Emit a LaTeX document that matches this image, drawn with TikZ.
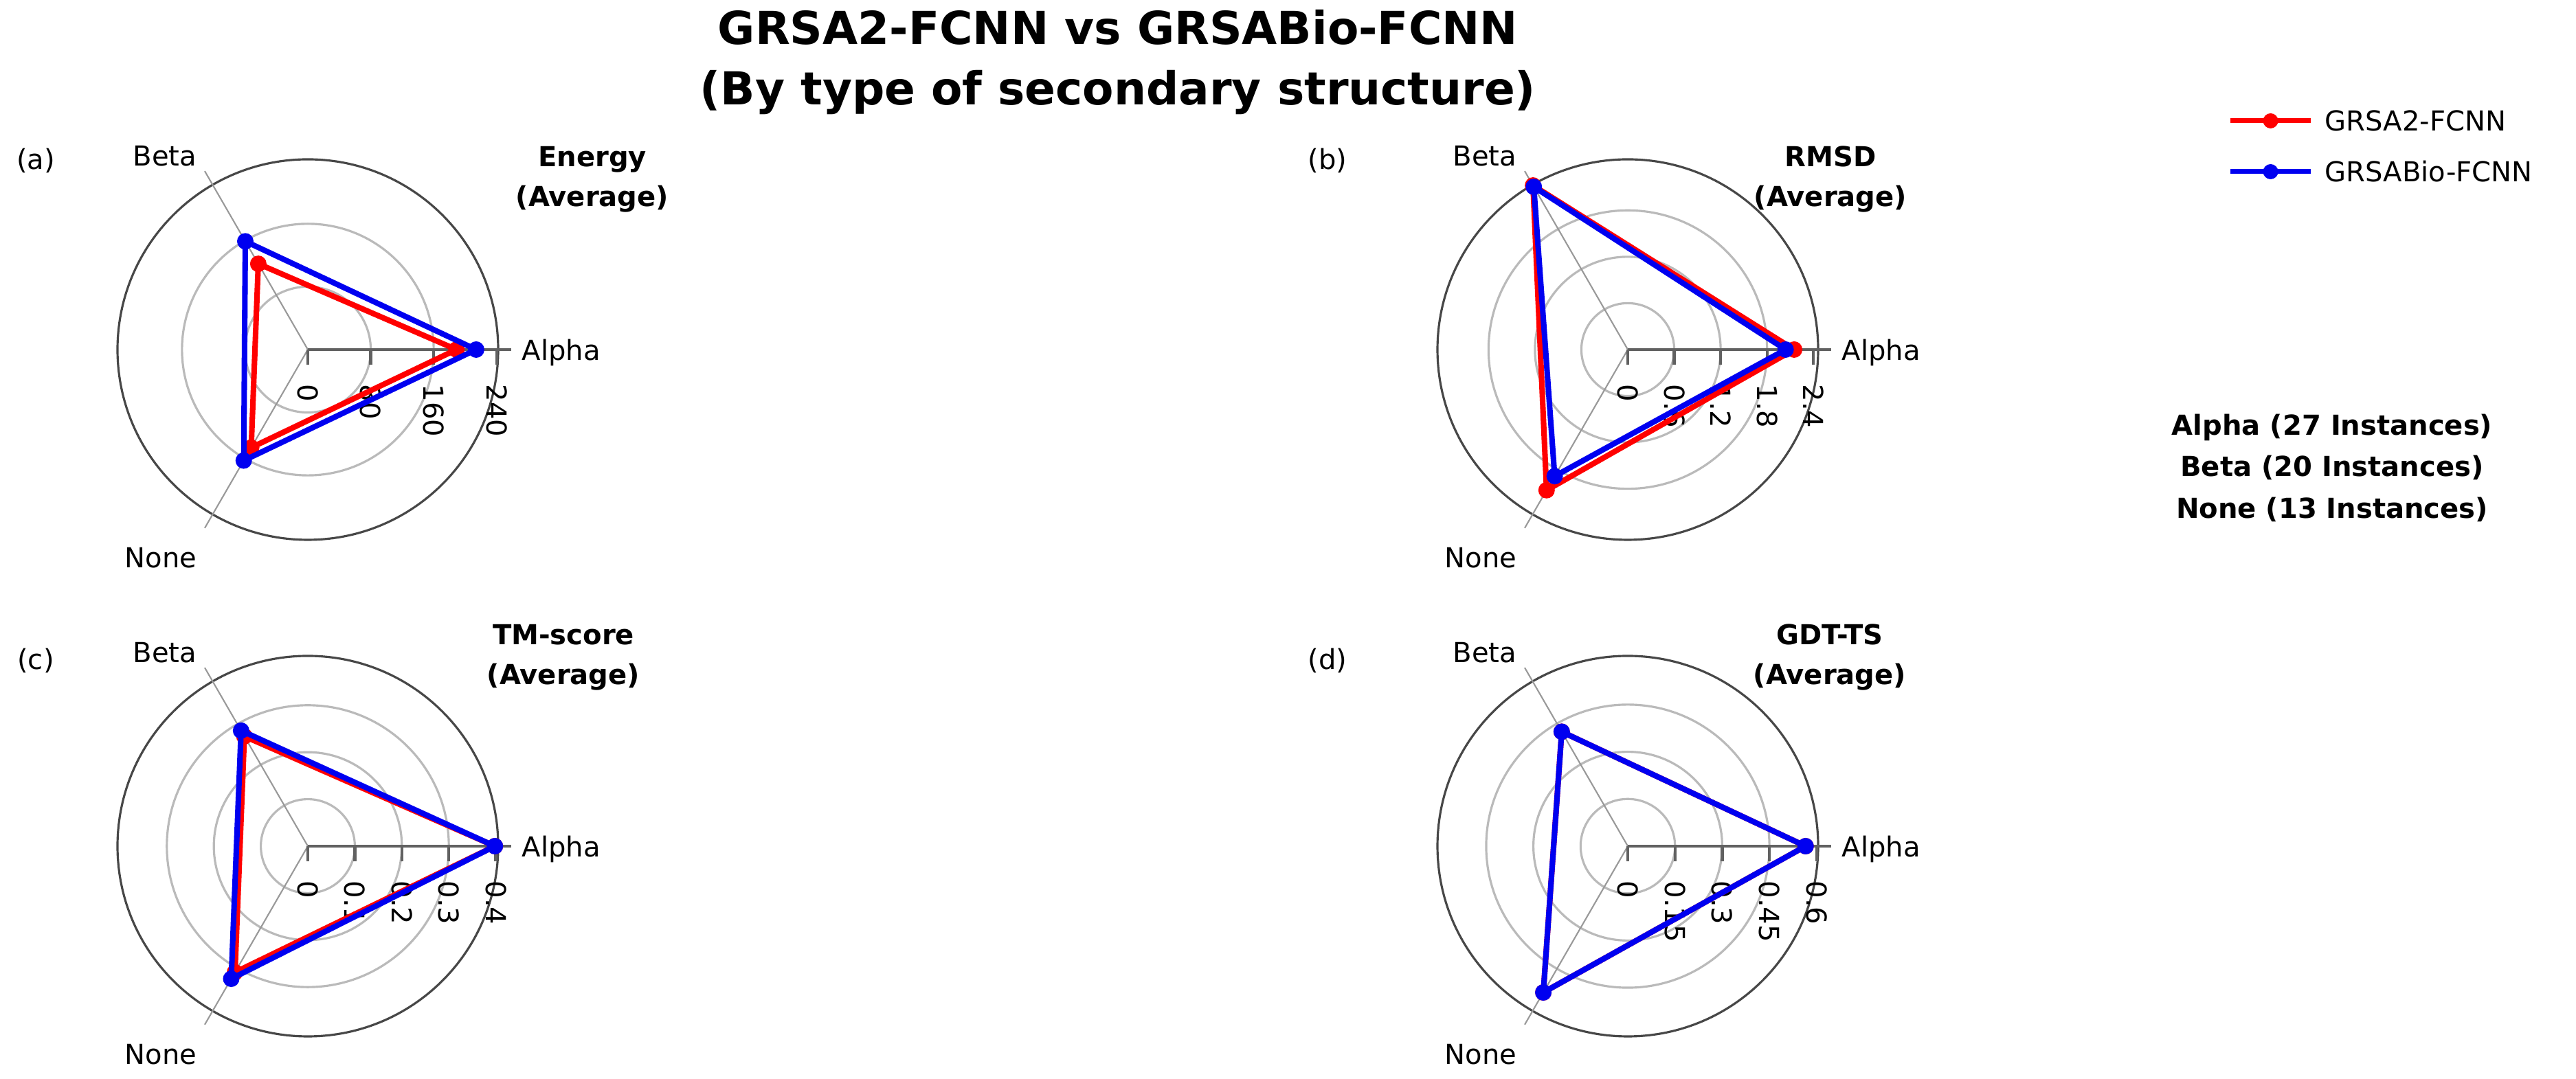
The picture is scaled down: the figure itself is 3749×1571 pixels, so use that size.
\documentclass[tikz,border=0pt]{standalone}
\usepackage{fontspec}
\setmainfont{DejaVu Sans}
\usetikzlibrary{calc}
\definecolor{sred}{RGB}{255,0,0}
\definecolor{sblue}{RGB}{0,0,240}
\tikzset{
  gridc/.style={draw=black!27, line width=0.9pt},
  outerc/.style={draw=black!72, line width=0.9pt},
  spoke/.style={draw=black!40, line width=0.6pt},
  axisl/.style={draw=black!62, line width=1.2pt},
  lab/.style={font=\fontsize{11.4}{13}\selectfont, inner sep=0pt},
  ptitle/.style={font=\fontsize{11.4}{16.5}\selectfont\bfseries, align=center, inner sep=0pt},
  redser/.style={draw=sred, line width=2.3pt, line join=round},
  blueser/.style={draw=sblue, line width=2.3pt, line join=round},
}
% #1 name, #2 cx, #3 cy, #4 px per unit, #5 ticks, #6 red A,B,N, #7 blue A,B,N
\newcommand\RadarPanel[7]{%
  \coordinate (#1-c) at (#2,#3);
  \foreach \t [count=\i] in {#5}{%
    \pgfmathsetmacro\tr{\t*#4}%
    \ifdim\tr pt>0.5pt \ifdim\tr pt<260pt \draw[gridc] (#1-c) circle[radius=\tr];\fi\fi
  }
  \draw[outerc] (#1-c) circle[radius=277];
  \draw[spoke] (#1-c) -- ++(120:300) coordinate (#1-bend);
  \draw[spoke] (#1-c) -- ++(240:300) coordinate (#1-nend);
  \draw[axisl] (#1-c) -- ++(0:296) coordinate (#1-aend);
  \foreach \t [count=\i] in {#5}{%
    \pgfmathsetmacro\tr{\t*#4}%
    \draw[axisl] ($(#1-c)+(\tr,0)$) -- ++(0,-22);
    \node[lab, rotate=-90, anchor=west] (#1-t\i) at ($(#1-c)+(\tr,-50)$) {\t};
  }
  \node[lab, anchor=west] (#1-alpha) at ($(#1-c)+(311,-4)$) {Alpha};
  \node[lab] (#1-beta) at ($(#1-c)+(-208,282)$) {Beta};
  \node[lab] (#1-none) at ($(#1-c)+(-214,-303)$) {None};
  \pgfmathsetmacro\ra{{#6}[0]*#4}%
  \pgfmathsetmacro\rb{{#6}[1]*#4}%
  \pgfmathsetmacro\rn{{#6}[2]*#4}%
  \draw[redser] ($(#1-c)+(0:\ra)$) coordinate (#1-ra) -- ($(#1-c)+(120:\rb)$) coordinate (#1-rb) -- ($(#1-c)+(240:\rn)$) coordinate (#1-rn) -- cycle;
  \foreach \p in {ra,rb,rn}{\fill[sred] (#1-\p) circle[radius=12];}
  \pgfmathsetmacro\ba{{#7}[0]*#4}%
  \pgfmathsetmacro\bb{{#7}[1]*#4}%
  \pgfmathsetmacro\bn{{#7}[2]*#4}%
  \draw[blueser] ($(#1-c)+(0:\ba)$) coordinate (#1-ba) -- ($(#1-c)+(120:\bb)$) coordinate (#1-bb) -- ($(#1-c)+(240:\bn)$) coordinate (#1-bn) -- cycle;
  \foreach \p in {ba,bb,bn}{\fill[sblue] (#1-\p) circle[radius=12];}
}
\begin{document}
\begin{tikzpicture}[x=0.01cm,y=0.01cm]
\useasboundingbox[fill=white] (0,0) rectangle (3749,1571);
\node[font=\fontsize{18.8}{25}\selectfont\bfseries, align=center, inner sep=0pt] (title) at (1627,1480)
  {GRSA2-FCNN vs GRSABio-FCNN\\(By type of secondary structure)};

\RadarPanel{pa}{448}{1062}{1.1446}{0,80,160,240}{189,126,144}{214,159,163}
\RadarPanel{pb}{2369}{1062}{112.6}{0,0.6,1.2,1.8,2.4}{2.15,2.45,2.10}{2.04,2.43,1.89}
\RadarPanel{pc}{448}{339}{684}{0,0.1,0.2,0.3,0.4}{0.398,0.270,0.310}{0.398,0.284,0.326}
\RadarPanel{pd}{2369}{339}{458}{0,0.15,0.3,0.45,0.6}{0.565,0.420,0.537}{0.565,0.420,0.537}

\node[lab] (la) at (52,1337) {(a)};
\node[lab] (lb) at (1932,1337) {(b)};
\node[lab] (lc) at (52,609) {(c)};
\node[lab] (ld) at (1932,609) {(d)};

\node[ptitle] (ta) at (862,1310) {Energy\\(Average)};
\node[ptitle] (tb) at (2664,1310) {RMSD\\(Average)};
\node[ptitle] (tc) at (820,614) {TM-score\\(Average)};
\node[ptitle] (td) at (2663,614) {GDT-TS\\(Average)};

% legend
\coordinate (l1a) at (3246,1395); \coordinate (l1b) at (3363,1395);
\coordinate (l2a) at (3246,1321); \coordinate (l2b) at (3363,1321);
\draw[draw=sred, line width=2pt] (l1a) -- (l1b);
\fill[sred] ($(l1a)!0.5!(l1b)$) circle[radius=11];
\draw[draw=sblue, line width=2pt] (l2a) -- (l2b);
\fill[sblue] ($(l2a)!0.5!(l2b)$) circle[radius=11];
\node[lab, anchor=west] (leg1) at (3383,1395) {GRSA2-FCNN};
\node[lab, anchor=west] (leg2) at (3383,1321) {GRSABio-FCNN};

\node[font=\fontsize{11.4}{17.2}\selectfont\bfseries, align=center, inner sep=0pt] (inst) at (3394,890)
  {Alpha (27 Instances)\\Beta (20 Instances)\\None (13 Instances)};
\end{tikzpicture}
\end{document}
